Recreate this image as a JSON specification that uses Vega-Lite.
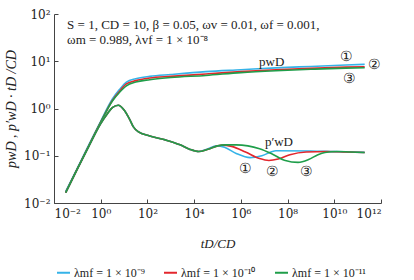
{
  "$schema": "https://vega.github.io/schema/vega-lite/v6.json",
  "width": 327,
  "height": 189,
  "autosize": {"type": "none"},
  "padding": {"left": 54, "top": 14, "right": 33, "bottom": 77},
  "background": "white",
  "config": {
    "view": {"stroke": null},
    "font": "Liberation Serif",
    "axis": {"labelFont": "DejaVu Serif", "titleFont": "Liberation Serif", "labelColor": "#222", "titleColor": "#222", "domainColor": "#444", "tickColor": "#444", "grid": false},
    "legend": {"labelFont": "Liberation Serif"}
  },
  "datasets": {
    "curves": [
      {"s": "λmf = 1 × 10⁻⁹", "k": "p", "t": 0.0316, "v": 0.0174},
      {"s": "λmf = 1 × 10⁻⁹", "k": "p", "t": 0.1, "v": 0.055},
      {"s": "λmf = 1 × 10⁻⁹", "k": "p", "t": 0.316, "v": 0.174},
      {"s": "λmf = 1 × 10⁻⁹", "k": "p", "t": 1, "v": 0.537},
      {"s": "λmf = 1 × 10⁻⁹", "k": "p", "t": 3.16, "v": 1.585},
      {"s": "λmf = 1 × 10⁻⁹", "k": "p", "t": 6.31, "v": 2.512},
      {"s": "λmf = 1 × 10⁻⁹", "k": "p", "t": 12.6, "v": 3.631},
      {"s": "λmf = 1 × 10⁻⁹", "k": "p", "t": 31.6, "v": 4.266},
      {"s": "λmf = 1 × 10⁻⁹", "k": "p", "t": 126, "v": 4.786},
      {"s": "λmf = 1 × 10⁻⁹", "k": "p", "t": 1000, "v": 5.248},
      {"s": "λmf = 1 × 10⁻⁹", "k": "p", "t": 31623, "v": 6.026},
      {"s": "λmf = 1 × 10⁻⁹", "k": "p", "t": 1000000, "v": 6.607},
      {"s": "λmf = 1 × 10⁻⁹", "k": "p", "t": 31600000, "v": 7.244},
      {"s": "λmf = 1 × 10⁻⁹", "k": "p", "t": 1000000000, "v": 7.762},
      {"s": "λmf = 1 × 10⁻⁹", "k": "p", "t": 31600000000, "v": 8.318},
      {"s": "λmf = 1 × 10⁻⁹", "k": "p", "t": 200000000000, "v": 8.61},

      {"s": "λmf = 1 × 10⁻¹⁰", "k": "p", "t": 0.0316, "v": 0.0166},
      {"s": "λmf = 1 × 10⁻¹⁰", "k": "p", "t": 0.1, "v": 0.0525},
      {"s": "λmf = 1 × 10⁻¹⁰", "k": "p", "t": 0.316, "v": 0.166},
      {"s": "λmf = 1 × 10⁻¹⁰", "k": "p", "t": 1, "v": 0.513},
      {"s": "λmf = 1 × 10⁻¹⁰", "k": "p", "t": 3.16, "v": 1.479},
      {"s": "λmf = 1 × 10⁻¹⁰", "k": "p", "t": 6.31, "v": 2.291},
      {"s": "λmf = 1 × 10⁻¹⁰", "k": "p", "t": 12.6, "v": 3.311},
      {"s": "λmf = 1 × 10⁻¹⁰", "k": "p", "t": 31.6, "v": 3.89},
      {"s": "λmf = 1 × 10⁻¹⁰", "k": "p", "t": 126, "v": 4.416},
      {"s": "λmf = 1 × 10⁻¹⁰", "k": "p", "t": 1000, "v": 4.786},
      {"s": "λmf = 1 × 10⁻¹⁰", "k": "p", "t": 31623, "v": 5.37},
      {"s": "λmf = 1 × 10⁻¹⁰", "k": "p", "t": 1000000, "v": 6.026},
      {"s": "λmf = 1 × 10⁻¹⁰", "k": "p", "t": 31600000, "v": 6.607},
      {"s": "λmf = 1 × 10⁻¹⁰", "k": "p", "t": 1000000000, "v": 7.079},
      {"s": "λmf = 1 × 10⁻¹⁰", "k": "p", "t": 31600000000, "v": 7.499},
      {"s": "λmf = 1 × 10⁻¹⁰", "k": "p", "t": 200000000000, "v": 7.674},

      {"s": "λmf = 1 × 10⁻¹¹", "k": "p", "t": 0.0316, "v": 0.0166},
      {"s": "λmf = 1 × 10⁻¹¹", "k": "p", "t": 0.1, "v": 0.0525},
      {"s": "λmf = 1 × 10⁻¹¹", "k": "p", "t": 0.316, "v": 0.166},
      {"s": "λmf = 1 × 10⁻¹¹", "k": "p", "t": 1, "v": 0.513},
      {"s": "λmf = 1 × 10⁻¹¹", "k": "p", "t": 3.16, "v": 1.445},
      {"s": "λmf = 1 × 10⁻¹¹", "k": "p", "t": 6.31, "v": 2.188},
      {"s": "λmf = 1 × 10⁻¹¹", "k": "p", "t": 12.6, "v": 3.02},
      {"s": "λmf = 1 × 10⁻¹¹", "k": "p", "t": 31.6, "v": 3.631},
      {"s": "λmf = 1 × 10⁻¹¹", "k": "p", "t": 126, "v": 4.074},
      {"s": "λmf = 1 × 10⁻¹¹", "k": "p", "t": 1000, "v": 4.519},
      {"s": "λmf = 1 × 10⁻¹¹", "k": "p", "t": 31623, "v": 5.012},
      {"s": "λmf = 1 × 10⁻¹¹", "k": "p", "t": 1000000, "v": 5.754},
      {"s": "λmf = 1 × 10⁻¹¹", "k": "p", "t": 31600000, "v": 6.31},
      {"s": "λmf = 1 × 10⁻¹¹", "k": "p", "t": 1000000000, "v": 6.761},
      {"s": "λmf = 1 × 10⁻¹¹", "k": "p", "t": 31600000000, "v": 7.161},
      {"s": "λmf = 1 × 10⁻¹¹", "k": "p", "t": 200000000000, "v": 7.295},

      {"s": "λmf = 1 × 10⁻⁹", "k": "d", "t": 0.0316, "v": 0.0166},
      {"s": "λmf = 1 × 10⁻⁹", "k": "d", "t": 0.1, "v": 0.0525},
      {"s": "λmf = 1 × 10⁻⁹", "k": "d", "t": 0.316, "v": 0.162},
      {"s": "λmf = 1 × 10⁻⁹", "k": "d", "t": 1, "v": 0.479},
      {"s": "λmf = 1 × 10⁻⁹", "k": "d", "t": 2.0, "v": 0.794},
      {"s": "λmf = 1 × 10⁻⁹", "k": "d", "t": 3.16, "v": 1.047},
      {"s": "λmf = 1 × 10⁻⁹", "k": "d", "t": 5.62, "v": 1.175},
      {"s": "λmf = 1 × 10⁻⁹", "k": "d", "t": 10, "v": 0.93},
      {"s": "λmf = 1 × 10⁻⁹", "k": "d", "t": 17.8, "v": 0.575},
      {"s": "λmf = 1 × 10⁻⁹", "k": "d", "t": 25.1, "v": 0.407},
      {"s": "λmf = 1 × 10⁻⁹", "k": "d", "t": 39.8, "v": 0.324},
      {"s": "λmf = 1 × 10⁻⁹", "k": "d", "t": 126, "v": 0.263},
      {"s": "λmf = 1 × 10⁻⁹", "k": "d", "t": 631, "v": 0.214},
      {"s": "λmf = 1 × 10⁻⁹", "k": "d", "t": 2512, "v": 0.17},
      {"s": "λmf = 1 × 10⁻⁹", "k": "d", "t": 6310, "v": 0.138},
      {"s": "λmf = 1 × 10⁻⁹", "k": "d", "t": 15849, "v": 0.123},
      {"s": "λmf = 1 × 10⁻⁹", "k": "d", "t": 39811, "v": 0.141},
      {"s": "λmf = 1 × 10⁻⁹", "k": "d", "t": 89125, "v": 0.162},
      {"s": "λmf = 1 × 10⁻⁹", "k": "d", "t": 199526, "v": 0.151},
      {"s": "λmf = 1 × 10⁻⁹", "k": "d", "t": 630957, "v": 0.112},
      {"s": "λmf = 1 × 10⁻⁹", "k": "d", "t": 2512000, "v": 0.0912},
      {"s": "λmf = 1 × 10⁻⁹", "k": "d", "t": 7940000, "v": 0.1},
      {"s": "λmf = 1 × 10⁻⁹", "k": "d", "t": 31600000, "v": 0.128},
      {"s": "λmf = 1 × 10⁻⁹", "k": "d", "t": 1000000000, "v": 0.126},
      {"s": "λmf = 1 × 10⁻⁹", "k": "d", "t": 10000000000, "v": 0.122},
      {"s": "λmf = 1 × 10⁻⁹", "k": "d", "t": 200000000000, "v": 0.118},

      {"s": "λmf = 1 × 10⁻¹⁰", "k": "d", "t": 0.0316, "v": 0.0166},
      {"s": "λmf = 1 × 10⁻¹⁰", "k": "d", "t": 0.1, "v": 0.0525},
      {"s": "λmf = 1 × 10⁻¹⁰", "k": "d", "t": 0.316, "v": 0.162},
      {"s": "λmf = 1 × 10⁻¹⁰", "k": "d", "t": 1, "v": 0.479},
      {"s": "λmf = 1 × 10⁻¹⁰", "k": "d", "t": 2.0, "v": 0.794},
      {"s": "λmf = 1 × 10⁻¹⁰", "k": "d", "t": 3.16, "v": 1.047},
      {"s": "λmf = 1 × 10⁻¹⁰", "k": "d", "t": 5.62, "v": 1.175},
      {"s": "λmf = 1 × 10⁻¹⁰", "k": "d", "t": 10, "v": 0.93},
      {"s": "λmf = 1 × 10⁻¹⁰", "k": "d", "t": 17.8, "v": 0.575},
      {"s": "λmf = 1 × 10⁻¹⁰", "k": "d", "t": 25.1, "v": 0.407},
      {"s": "λmf = 1 × 10⁻¹⁰", "k": "d", "t": 39.8, "v": 0.324},
      {"s": "λmf = 1 × 10⁻¹⁰", "k": "d", "t": 126, "v": 0.263},
      {"s": "λmf = 1 × 10⁻¹⁰", "k": "d", "t": 631, "v": 0.214},
      {"s": "λmf = 1 × 10⁻¹⁰", "k": "d", "t": 2512, "v": 0.17},
      {"s": "λmf = 1 × 10⁻¹⁰", "k": "d", "t": 6310, "v": 0.138},
      {"s": "λmf = 1 × 10⁻¹⁰", "k": "d", "t": 15849, "v": 0.123},
      {"s": "λmf = 1 × 10⁻¹⁰", "k": "d", "t": 39811, "v": 0.138},
      {"s": "λmf = 1 × 10⁻¹⁰", "k": "d", "t": 100000, "v": 0.162},
      {"s": "λmf = 1 × 10⁻¹⁰", "k": "d", "t": 158489, "v": 0.168},
      {"s": "λmf = 1 × 10⁻¹⁰", "k": "d", "t": 398107, "v": 0.158},
      {"s": "λmf = 1 × 10⁻¹⁰", "k": "d", "t": 1585000, "v": 0.12},
      {"s": "λmf = 1 × 10⁻¹⁰", "k": "d", "t": 6310000, "v": 0.0871},
      {"s": "λmf = 1 × 10⁻¹⁰", "k": "d", "t": 15850000, "v": 0.0794},
      {"s": "λmf = 1 × 10⁻¹⁰", "k": "d", "t": 39810000, "v": 0.0851},
      {"s": "λmf = 1 × 10⁻¹⁰", "k": "d", "t": 125900000, "v": 0.105},
      {"s": "λmf = 1 × 10⁻¹⁰", "k": "d", "t": 631000000, "v": 0.12},
      {"s": "λmf = 1 × 10⁻¹⁰", "k": "d", "t": 5010000000, "v": 0.123},
      {"s": "λmf = 1 × 10⁻¹⁰", "k": "d", "t": 31600000000, "v": 0.12},
      {"s": "λmf = 1 × 10⁻¹⁰", "k": "d", "t": 200000000000, "v": 0.117},

      {"s": "λmf = 1 × 10⁻¹¹", "k": "d", "t": 0.0316, "v": 0.0166},
      {"s": "λmf = 1 × 10⁻¹¹", "k": "d", "t": 0.1, "v": 0.0525},
      {"s": "λmf = 1 × 10⁻¹¹", "k": "d", "t": 0.316, "v": 0.162},
      {"s": "λmf = 1 × 10⁻¹¹", "k": "d", "t": 1, "v": 0.479},
      {"s": "λmf = 1 × 10⁻¹¹", "k": "d", "t": 2.0, "v": 0.794},
      {"s": "λmf = 1 × 10⁻¹¹", "k": "d", "t": 3.16, "v": 1.047},
      {"s": "λmf = 1 × 10⁻¹¹", "k": "d", "t": 5.62, "v": 1.175},
      {"s": "λmf = 1 × 10⁻¹¹", "k": "d", "t": 10, "v": 0.93},
      {"s": "λmf = 1 × 10⁻¹¹", "k": "d", "t": 17.8, "v": 0.575},
      {"s": "λmf = 1 × 10⁻¹¹", "k": "d", "t": 25.1, "v": 0.407},
      {"s": "λmf = 1 × 10⁻¹¹", "k": "d", "t": 39.8, "v": 0.324},
      {"s": "λmf = 1 × 10⁻¹¹", "k": "d", "t": 126, "v": 0.263},
      {"s": "λmf = 1 × 10⁻¹¹", "k": "d", "t": 631, "v": 0.214},
      {"s": "λmf = 1 × 10⁻¹¹", "k": "d", "t": 2512, "v": 0.17},
      {"s": "λmf = 1 × 10⁻¹¹", "k": "d", "t": 6310, "v": 0.138},
      {"s": "λmf = 1 × 10⁻¹¹", "k": "d", "t": 15849, "v": 0.123},
      {"s": "λmf = 1 × 10⁻¹¹", "k": "d", "t": 39811, "v": 0.138},
      {"s": "λmf = 1 × 10⁻¹¹", "k": "d", "t": 100000, "v": 0.162},
      {"s": "λmf = 1 × 10⁻¹¹", "k": "d", "t": 199526, "v": 0.17},
      {"s": "λmf = 1 × 10⁻¹¹", "k": "d", "t": 630957, "v": 0.17},
      {"s": "λmf = 1 × 10⁻¹¹", "k": "d", "t": 1995000, "v": 0.162},
      {"s": "λmf = 1 × 10⁻¹¹", "k": "d", "t": 6310000, "v": 0.141},
      {"s": "λmf = 1 × 10⁻¹¹", "k": "d", "t": 19950000, "v": 0.112},
      {"s": "λmf = 1 × 10⁻¹¹", "k": "d", "t": 79400000, "v": 0.0794},
      {"s": "λmf = 1 × 10⁻¹¹", "k": "d", "t": 281800000, "v": 0.0724},
      {"s": "λmf = 1 × 10⁻¹¹", "k": "d", "t": 794000000, "v": 0.0832},
      {"s": "λmf = 1 × 10⁻¹¹", "k": "d", "t": 2000000000, "v": 0.105},
      {"s": "λmf = 1 × 10⁻¹¹", "k": "d", "t": 3980000000, "v": 0.117},
      {"s": "λmf = 1 × 10⁻¹¹", "k": "d", "t": 12600000000, "v": 0.123},
      {"s": "λmf = 1 × 10⁻¹¹", "k": "d", "t": 50100000000, "v": 0.12},
      {"s": "λmf = 1 × 10⁻¹¹", "k": "d", "t": 200000000000, "v": 0.117}
    ],
    "params": [
      {"t": 0.0363, "v": 58.5, "label": "S = 1, CD = 10, β = 0.05, ωv = 0.01, ωf = 0.001,"},
      {"t": 0.0363, "v": 28.2, "label": "ωm = 0.989, λvf = 1 × 10⁻⁸"}
    ],
    "notes": [
      {"t": 20900000, "v": 9.77, "label": "pwD", "sz": 13},
      {"t": 42700000, "v": 0.195, "label": "p′wD", "sz": 13},
      {"t": 34700000000, "v": 12.3, "label": "①", "sz": 14},
      {"t": 550000000000, "v": 8.32, "label": "②", "sz": 14},
      {"t": 46800000000, "v": 4.17, "label": "③", "sz": 14},
      {"t": 1510000, "v": 0.0537, "label": "①", "sz": 14},
      {"t": 22900000, "v": 0.0457, "label": "②", "sz": 14},
      {"t": 617000000, "v": 0.0457, "label": "③", "sz": 14}
    ]
  },
  "layer": [
    {
      "data": {"name": "curves"},
      "mark": {"type": "line", "strokeWidth": 1.6, "interpolate": "monotone"},
      "encoding": {
        "x": {
          "field": "t", "type": "quantitative",
          "scale": {"type": "log", "domain": [0.01, 1000000000000], "nice": false},
          "axis": {
            "values": [0.01, 1, 100, 10000, 1000000, 100000000, 10000000000, 1000000000000],
            "labelExpr": "datum.value < 0.1 ? '10⁻²' : datum.value < 10 ? '10⁰' : datum.value < 1000 ? '10²' : datum.value < 100000 ? '10⁴' : datum.value < 10000000 ? '10⁶' : datum.value < 1000000000 ? '10⁸' : datum.value < 100000000000 ? '10¹⁰' : '10¹²'",
            "tickSize": -4,
            "labelPadding": 9,
            "labelFontSize": 12,
            "title": "tD/CD",
            "titleFontSize": 13,
            "titleFontStyle": "italic",
            "titleFontWeight": "normal",
            "titlePadding": 18
          }
        },
        "y": {
          "field": "v", "type": "quantitative",
          "scale": {"type": "log", "domain": [0.01, 100], "nice": false},
          "axis": {
            "values": [0.01, 0.1, 1, 10, 100],
            "labelExpr": "datum.value < 0.05 ? '10⁻²' : datum.value < 0.5 ? '10⁻¹' : datum.value < 5 ? '10⁰' : datum.value < 50 ? '10¹' : '10²'",
            "tickSize": -4,
            "labelPadding": 8,
            "labelFontSize": 12,
            "title": "pwD , p′wD · tD /CD",
            "titleFontSize": 14,
            "titleFontStyle": "italic",
            "titleFontWeight": "normal",
            "titlePadding": 5
          }
        },
        "color": {
          "field": "s", "type": "nominal",
          "scale": {"domain": ["λmf = 1 × 10⁻⁹", "λmf = 1 × 10⁻¹⁰", "λmf = 1 × 10⁻¹¹"], "range": ["#35b3e8", "#e3262d", "#1f9e4a"]},
          "legend": {
            "orient": "none",
            "direction": "horizontal",
            "legendX": 2,
            "legendY": 251,
            "title": null,
            "columnPadding": 15,
            "labelOffset": 3,
            "labelLimit": 300,
            "symbolType": "stroke",
            "symbolSize": 169,
            "symbolStrokeWidth": 2,
            "labelFontSize": 12,
            "labelColor": "#222"
          }
        },
        "detail": {"field": "k", "type": "nominal"}
      }
    },
    {
      "data": {"name": "params"},
      "mark": {"type": "text", "font": "Liberation Serif", "fontSize": 13, "color": "#222", "baseline": "middle", "align": "left"},
      "encoding": {
        "x": {"field": "t", "type": "quantitative", "scale": {"type": "log", "domain": [0.01, 1000000000000], "nice": false}},
        "y": {"field": "v", "type": "quantitative", "scale": {"type": "log", "domain": [0.01, 100], "nice": false}},
        "text": {"field": "label"}
      }
    },
    {
      "data": {"name": "notes"},
      "mark": {"type": "text", "font": "Liberation Serif", "color": "#222", "baseline": "middle", "align": "center"},
      "encoding": {
        "x": {"field": "t", "type": "quantitative", "scale": {"type": "log", "domain": [0.01, 1000000000000], "nice": false}},
        "y": {"field": "v", "type": "quantitative", "scale": {"type": "log", "domain": [0.01, 100], "nice": false}},
        "text": {"field": "label"},
        "size": {"field": "sz", "type": "quantitative", "scale": null}
      }
    }
  ]
}
